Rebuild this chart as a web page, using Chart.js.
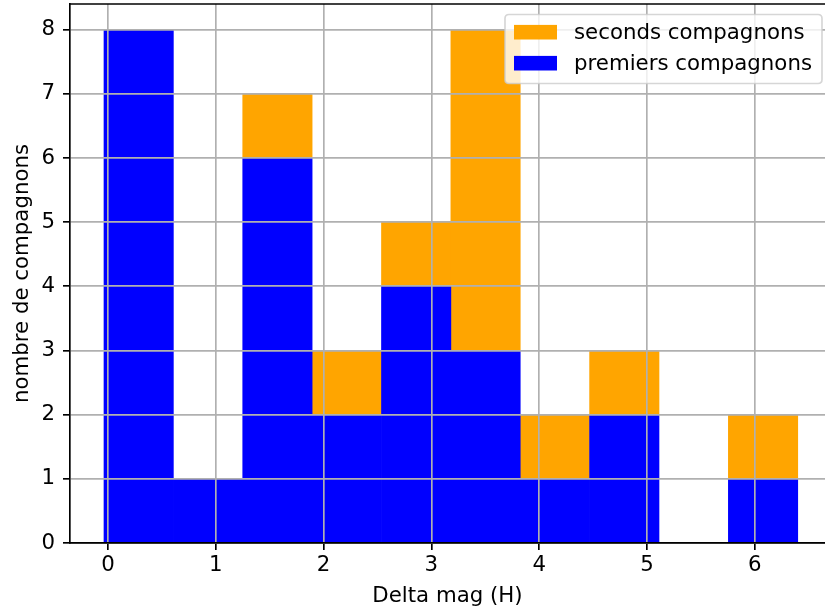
<!DOCTYPE html>
<html>
<head>
<meta charset="utf-8">
<script src="https://cdn.jsdelivr.net/npm/chart.js@4.4.0/dist/chart.umd.min.js"></script>
<style>
  html, body { margin: 0; padding: 0; background: #fff; }
  canvas { display: block; }
</style>
</head>
<body>
<canvas id="c" width="825" height="609"></canvas>
<script>
// ---- data ----
const binEdges = [-0.037, 0.607, 1.250, 1.894, 2.537, 3.181, 3.824, 4.468, 5.111, 5.755, 6.398];
const premiers = [8, 1, 6, 2, 4, 3, 1, 2, 0, 1];
const seconds  = [0, 0, 1, 1, 1, 5, 1, 1, 0, 1];
const xTicks = [0, 1, 2, 3, 4, 5, 6];
const yTicks = [0, 1, 2, 3, 4, 5, 6, 7, 8];
const labelPremiers = 'premiers compagnons';
const labelSeconds = 'seconds compagnons';
const xTitle = 'Delta mag (H)';
const yTitle = 'nombre de compagnons';

const centers = premiers.map((_, i) => (binEdges[i] + binEdges[i + 1]) / 2);

const FS = 21.3;
Chart.defaults.font.family = '"DejaVu Sans", sans-serif';
Chart.defaults.font.size = FS;
Chart.defaults.color = '#000';

const LW = 1.67;

const frameAndLegend = {
  id: 'frameAndLegend',
  afterDraw(chart) {
    const ctx = chart.ctx;
    const a = chart.chartArea;
    ctx.save();
    // top spine
    ctx.strokeStyle = '#000';
    ctx.lineWidth = LW;
    ctx.beginPath();
    ctx.moveTo(a.left - LW / 2, a.top);
    ctx.lineTo(a.right, a.top);
    ctx.stroke();

    // legend
    const bx = 505, by = 14.5, bw = 317, bh = 69, r = 4;
    ctx.beginPath();
    ctx.moveTo(bx + r, by);
    ctx.lineTo(bx + bw - r, by);
    ctx.quadraticCurveTo(bx + bw, by, bx + bw, by + r);
    ctx.lineTo(bx + bw, by + bh - r);
    ctx.quadraticCurveTo(bx + bw, by + bh, bx + bw - r, by + bh);
    ctx.lineTo(bx + r, by + bh);
    ctx.quadraticCurveTo(bx, by + bh, bx, by + bh - r);
    ctx.lineTo(bx, by + r);
    ctx.quadraticCurveTo(bx, by, bx + r, by);
    ctx.closePath();
    ctx.fillStyle = 'rgba(255,255,255,0.8)';
    ctx.fill();
    ctx.strokeStyle = 'rgba(204,204,204,0.8)';
    ctx.lineWidth = LW;
    ctx.stroke();

    const ds = chart.data.datasets.slice().reverse();
    ctx.font = FS + 'px "DejaVu Sans", sans-serif';
    ctx.textBaseline = 'middle';
    ctx.textAlign = 'left';
    ds.forEach((d, i) => {
      const cy = 32.2 + i * 31;
      ctx.fillStyle = d.backgroundColor;
      ctx.fillRect(514, cy - 7.3, 43, 14.6);
      ctx.fillStyle = '#000';
      ctx.fillText(d.label, 574, cy + 1);
    });
    ctx.restore();
  }
};

new Chart(document.getElementById('c'), {
  type: 'bar',
  data: {
    datasets: [
      {
        label: labelPremiers,
        data: centers.map((x, i) => ({ x: x, y: premiers[i] })),
        backgroundColor: '#0000ff',
        borderWidth: 0,
        barPercentage: 1,
        categoryPercentage: 1
      },
      {
        label: labelSeconds,
        data: centers.map((x, i) => ({ x: x, y: seconds[i] })),
        backgroundColor: '#ffa500',
        borderWidth: 0,
        barPercentage: 1,
        categoryPercentage: 1
      }
    ]
  },
  options: {
    responsive: false,
    animation: false,
    layout: { padding: { left: 0, right: 0, top: 4, bottom: 0 } },
    plugins: { legend: { display: false }, tooltip: { enabled: false } },
    scales: {
      x: {
        type: 'linear',
        stacked: true,
        offset: false,
        min: -0.352,
        max: 6.651,
        afterBuildTicks: s => { s.ticks = xTicks.map(v => ({ value: v })); },
        afterFit: s => { s.height = 66; s.paddingLeft = 0; s.paddingRight = 0; },
        ticks: { padding: 3, maxRotation: 0, autoSkip: false, includeBounds: false,
                 font: { size: FS } },
        grid: { color: '#b0b0b0', lineWidth: LW, z: 1, drawTicks: true,
                tickLength: 7, tickColor: '#000', tickWidth: LW, offset: false },
        border: { color: '#000', width: LW, z: 2 },
        title: { display: true, text: xTitle, padding: { top: 0, bottom: 0 },
                 font: { size: FS } }
      },
      y: {
        type: 'linear',
        stacked: true,
        min: 0,
        max: 8.4,
        afterBuildTicks: s => { s.ticks = yTicks.map(v => ({ value: v })); },
        afterFit: s => { s.width = 70; s.paddingTop = 0; s.paddingBottom = 0; },
        ticks: { padding: 8, includeBounds: false, font: { size: FS } },
        grid: { color: '#b0b0b0', lineWidth: LW, z: 1, drawTicks: true,
                tickLength: 7, tickColor: '#000', tickWidth: LW },
        border: { color: '#000', width: LW, z: 2 },
        title: { display: true, text: yTitle, padding: { top: 10, bottom: 0 },
                 font: { size: FS } }
      }
    }
  },
  plugins: [frameAndLegend]
});
</script>
</body>
</html>
